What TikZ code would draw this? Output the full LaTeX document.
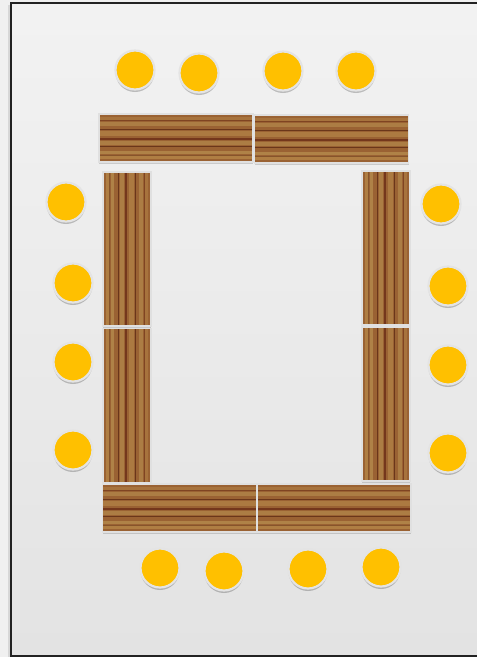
\documentclass[tikz,border=0pt]{standalone}
\usetikzlibrary{calc,shadows}
\definecolor{seat}{HTML}{FFC000}
\definecolor{seatrim}{HTML}{E4E4E4}
\definecolor{woodbase}{HTML}{9A6233}
\definecolor{woodlight}{HTML}{B58548}
\definecolor{woodgold}{HTML}{B99050}
\definecolor{wooddark}{HTML}{5E2C14}
\definecolor{woodred}{HTML}{6E3018}
\definecolor{framecol}{HTML}{222222}
\tikzset{
  seatnode/.style={circle, minimum size=39pt, inner sep=0pt, fill=seat, draw=seatrim, line width=2.2pt,
    drop shadow={shadow xshift=0pt, shadow yshift=-2.5pt, opacity=0.22, fill=black}},
  woodbox/.style={rectangle, inner sep=0pt, draw=black!12, line width=1.4pt, fill=woodbase,
    drop shadow={shadow xshift=0pt, shadow yshift=-2pt, opacity=0.15, fill=black}},
  tableh/.style={woodbox, minimum width=154pt, minimum height=48pt,
    path picture={
      \coordinate (sw) at (path picture bounding box.south west);
      \coordinate (ne) at (path picture bounding box.north east);
      \coordinate (nw) at (path picture bounding box.north west);
      \coordinate (se) at (path picture bounding box.south east);
      \fill[woodbase] (sw) rectangle (ne);
      \foreach \f/\c/\w/\o in {0.1/woodlight/4/0.8, 0.2/woodgold/3/0.7, 0.28/woodbase/2/1, 0.4/woodgold/4/0.6,
          0.6/woodlight/5/0.7, 0.8/woodgold/4/0.6, 0.9/woodlight/3/0.5,
          0.14/wooddark/0.6/0.5, 0.32/wooddark/1.2/0.8, 0.48/woodred/1.8/0.85, 0.68/wooddark/1.3/0.8, 0.86/woodred/1/0.6}
        \draw[\c, line width=\w pt, opacity=\o] ($(sw)!\f!(nw)$) -- ($(se)!\f!(ne)$);
    }},
  tablev/.style={woodbox, minimum width=48pt, minimum height=154pt,
    path picture={
      \coordinate (sw) at (path picture bounding box.south west);
      \coordinate (ne) at (path picture bounding box.north east);
      \coordinate (nw) at (path picture bounding box.north west);
      \coordinate (se) at (path picture bounding box.south east);
      \fill[woodbase] (sw) rectangle (ne);
      \foreach \f/\c/\w/\o in {0.1/woodlight/4/0.8, 0.2/woodgold/3/0.7, 0.28/woodbase/2/1, 0.4/woodgold/4/0.6,
          0.6/woodlight/5/0.7, 0.8/woodgold/4/0.6, 0.9/woodlight/3/0.5,
          0.14/wooddark/0.6/0.5, 0.32/wooddark/1.2/0.8, 0.48/woodred/1.8/0.85, 0.68/wooddark/1.3/0.8, 0.86/woodred/1/0.6}
        \draw[\c, line width=\w pt, opacity=\o] ($(sw)!\f!(se)$) -- ($(nw)!\f!(ne)$);
    }},
}
\begin{document}
\begin{tikzpicture}[x=1pt,y=-1pt]
\useasboundingbox (0,0) rectangle (477,657);
\fill[black!6] (0,0) rectangle (477,657);
\begin{scope}
\clip (0,0) rectangle (477,657);
\fill[black!25, opacity=0.5] (8,5) rectangle (500,660);
\shade[top color=black!5, bottom color=black!11] (11,3) rectangle (500,656);
\draw[framecol, line width=2.2pt] (11,3) rectangle (500,656);
\end{scope}

% tables
\node[tableh] (th1) at (176,138) {};
\node[tableh] (th2) at (331.5,139) {};
\node[tablev] (tl1) at (127,249) {};
\node[tablev] (tl2) at (127,405.5) {};
\node[tablev] (tr1) at (386,248) {};
\node[tablev] (tr2) at (386,404) {};
\node[tableh] (tb1) at (179.5,508) {};
\node[tableh] (tb2) at (334,508) {};

% seats top
\node[seatnode] (s1) at (135,70) {};
\node[seatnode] (s2) at (199,73) {};
\node[seatnode] (s3) at (283,71) {};
\node[seatnode] (s4) at (356,71) {};
% seats left
\node[seatnode] (s5) at (66,202) {};
\node[seatnode] (s6) at (73,283) {};
\node[seatnode] (s7) at (73,362) {};
\node[seatnode] (s8) at (73,450) {};
% seats right
\node[seatnode] (s9) at (441,204) {};
\node[seatnode] (s10) at (448,286) {};
\node[seatnode] (s11) at (448,365) {};
\node[seatnode] (s12) at (448,453) {};
% seats bottom
\node[seatnode] (s13) at (160,568) {};
\node[seatnode] (s14) at (224,571) {};
\node[seatnode] (s15) at (308,569) {};
\node[seatnode] (s16) at (381,567) {};
\end{tikzpicture}
\end{document}
